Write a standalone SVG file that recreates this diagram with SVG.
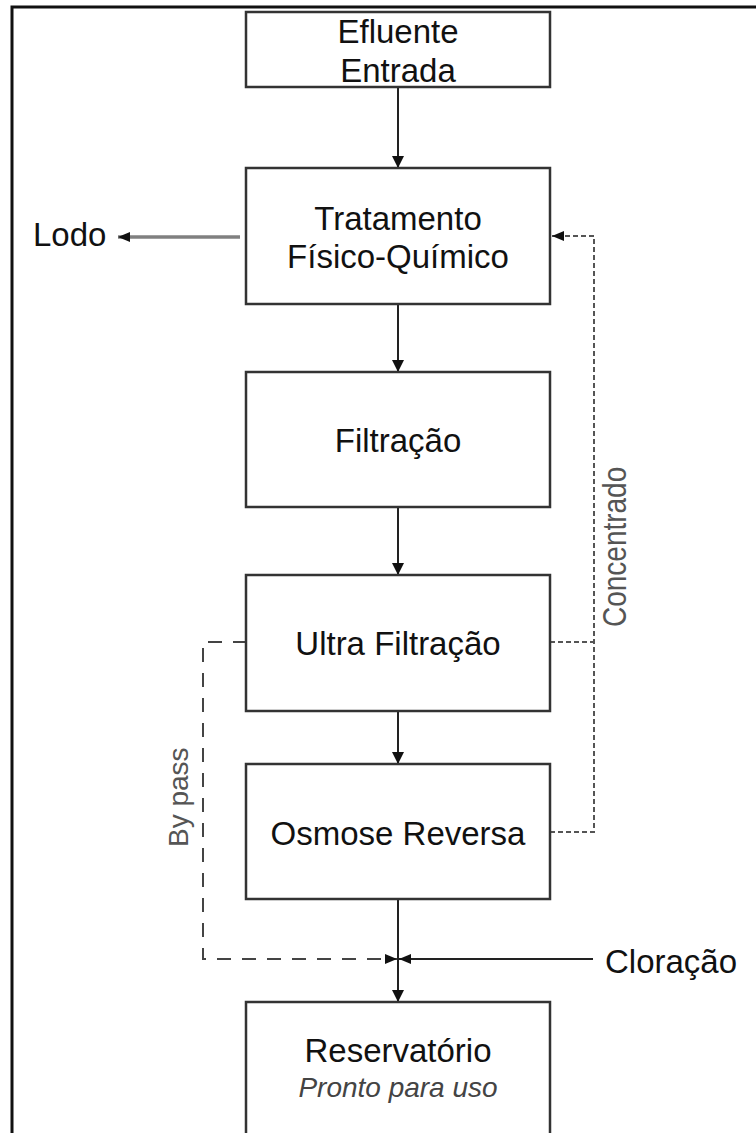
<svg xmlns="http://www.w3.org/2000/svg" width="756" height="1133" viewBox="0 0 756 1133">
  <style>
    .frame { fill: none; stroke: #111; stroke-width: 3; }
    .box { fill: #fff; stroke: #333; stroke-width: 2.5; }
    .lbl { font-family: "Liberation Sans", Arial, sans-serif; font-size: 33px; fill: #111; text-anchor: middle; }
    .side { font-family: "Liberation Sans", Arial, sans-serif; font-size: 33px; fill: #111; }
    .sub { font-family: "Liberation Sans", Arial, sans-serif; font-size: 28px; font-style: italic; fill: #444; text-anchor: middle; }
    .rot { font-family: "Liberation Sans", Arial, sans-serif; font-size: 28px; fill: #555; }
    .flow { fill: none; stroke: #222; stroke-width: 2; }
    .sludge { fill: none; stroke: #808080; stroke-width: 3.5; }
    .conc { fill: none; stroke: #555; stroke-width: 2; stroke-dasharray: 5 3; }
    .bypass { fill: none; stroke: #444; stroke-width: 2; stroke-dasharray: 14 11; }
  </style>
  <defs>
    <marker id="ah" viewBox="0 0 12 12" refX="12" refY="6" markerWidth="13" markerHeight="12" orient="auto" markerUnits="userSpaceOnUse">
      <path d="M0,0 L12,6 L0,12 Z" fill="#111"/>
    </marker>
    <marker id="ahs" viewBox="0 0 12 10" refX="12" refY="5" markerWidth="13" markerHeight="10" orient="auto" markerUnits="userSpaceOnUse">
      <path d="M0,0 L12,5 L0,10 Z" fill="#111"/>
    </marker>
  </defs>
  <rect x="0" y="0" width="756" height="1133" fill="#fff"/>
  <rect class="frame" x="12" y="7" width="780" height="1160"/>

  <g id="connectors">
    <path class="flow" d="M398,87 V168" marker-end="url(#ah)"/>
    <path class="flow" d="M398,304 V372" marker-end="url(#ah)"/>
    <path class="flow" d="M398,507 V575" marker-end="url(#ah)"/>
    <path class="flow" d="M398,711 V764" marker-end="url(#ah)"/>
    <path class="flow" d="M398,899 V1002" marker-end="url(#ah)"/>
    <path class="sludge" d="M240,237 H118" marker-end="url(#ahs)"/>
    <path class="conc" d="M550,642 H594"/>
    <path class="conc" d="M550,832 H594 V236 H552" marker-end="url(#ahs)"/>
    <path class="bypass" d="M247,642 H203 V959 H397" marker-end="url(#ahs)"/>
    <path class="flow" d="M593,959 H399" marker-end="url(#ahs)"/>
    <text class="rot" transform="translate(626,627) rotate(-90) scale(1,1.2)">Concentrado</text>
    <text class="rot" transform="translate(188,847) rotate(-90)">By pass</text>
  </g>

  <g id="efluente">
    <rect class="box" x="246" y="12" width="304" height="75"/>
    <text class="lbl" x="398" y="43">Efluente</text>
    <text class="lbl" x="398" y="82">Entrada</text>
  </g>
  <g id="tratamento">
    <rect class="box" x="246" y="168" width="304" height="136"/>
    <text class="lbl" x="398" y="230">Tratamento</text>
    <text class="lbl" x="398" y="268">Físico-Químico</text>
  </g>
  <g id="lodo">
    <text class="side" x="33" y="246">Lodo</text>
  </g>
  <g id="filtracao">
    <rect class="box" x="246" y="372" width="304" height="135"/>
    <text class="lbl" x="398" y="452">Filtração</text>
  </g>
  <g id="ultra">
    <rect class="box" x="246" y="575" width="304" height="136"/>
    <text class="lbl" x="398" y="655">Ultra Filtração</text>
  </g>
  <g id="osmose">
    <rect class="box" x="246" y="764" width="304" height="135"/>
    <text class="lbl" x="398" y="845">Osmose Reversa</text>
  </g>
  <g id="cloracao">
    <text class="side" x="605" y="973">Cloração</text>
  </g>
  <g id="reservatorio">
    <rect class="box" x="246" y="1002" width="304" height="160"/>
    <text class="lbl" x="398" y="1062">Reservatório</text>
    <text class="sub" x="398" y="1097">Pronto para uso</text>
  </g>
</svg>
